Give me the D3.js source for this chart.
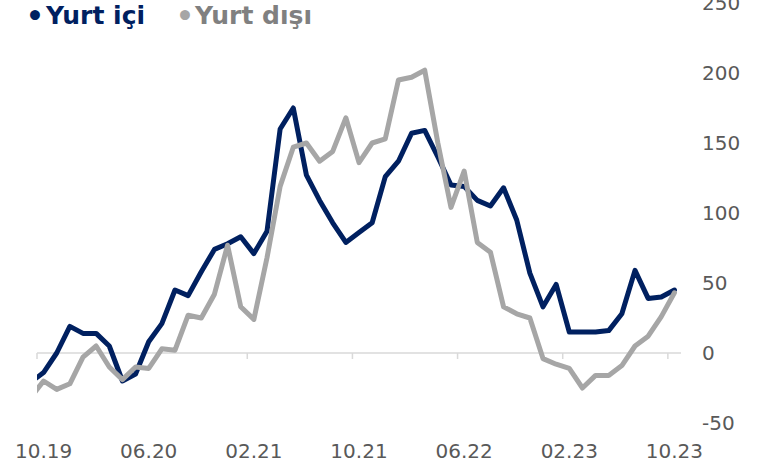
<!DOCTYPE html>
<html>
<head>
<meta charset="utf-8">
<script src="https://cdn.jsdelivr.net/npm/d3@7"></script>
<style>
  body { margin: 0; background: #fff; }
  svg { display: block; font-family: 'DejaVu Sans', Verdana, sans-serif; }
</style>
</head>
<body>
<div id="chart-container"></div>
<script>
// Months (09.19 is only partly visible at the left edge)
const months = ['09.19','10.19','11.19','12.19','01.20','02.20','03.20','04.20','05.20','06.20',
  '07.20','08.20','09.20','10.20','11.20','12.20','01.21','02.21','03.21','04.21',
  '05.21','06.21','07.21','08.21','09.21','10.21','11.21','12.21','01.22','02.22',
  '03.22','04.22','05.22','06.22','07.22','08.22','09.22','10.22','11.22','12.22',
  '01.23','02.23','03.23','04.23','05.23','06.23','07.23','08.23','09.23','10.23'];

const yurtIci = [-21,-14,0,19,14,14,5,-20,-15,8,
  21,45,41,58,74,78,83,71,87,160,
  175,127,109,93,79,86,93,126,137,157,
  159,140,120,119,109,105,118,95,57,33,
  49,15,15,15,16,28,59,39,40,45];

const yurtDisi = [-32,-20,-26,-22,-3,5,-10,-19,-10,-11,
  3,2,27,25,42,77,33,24,68,119,
  147,150,137,144,168,136,150,153,195,197,
  202,150,104,130,79,72,33,28,25,-4,
  -8,-11,-25,-16,-16,-9,5,12,26,43];

const tickLabels = ['10.19','06.20','02.21','10.21','06.22','02.23','10.23'];
const yTicks = [-50, 0, 50, 100, 150, 200, 250];

const width = 784;
const height = 466;
const plot = { left: 37, right: 681, top: 3, bottom: 423 };

const blue = '#002060';
const grey = '#a6a6a6';

function createChart() {
  const svg = d3.create('svg')
    .attr('width', width)
    .attr('height', height);

  // index scale: category i sits at the centre of its slot
  const x = d3.scaleLinear()
    .domain([0.5, months.length - 0.5])
    .range([plot.left, plot.right]);

  const y = d3.scaleLinear()
    .domain([-50, 250])
    .range([plot.bottom, plot.top]);

  svg.append('clipPath')
    .attr('id', 'clip')
    .append('rect')
    .attr('x', plot.left)
    .attr('y', 0)
    .attr('width', plot.right - plot.left)
    .attr('height', height);

  // zero line with tick marks between categories
  svg.append('line')
    .attr('x1', plot.left).attr('x2', plot.right)
    .attr('y1', y(0)).attr('y2', y(0))
    .attr('stroke', '#d9d9d9')
    .attr('stroke-width', 1.5);

  const tickIdx = d3.range(0.5, months.length - 1, 8);
  svg.append('g')
    .selectAll('line')
    .data(tickIdx)
    .join('line')
    .attr('x1', (d) => x(d)).attr('x2', (d) => x(d))
    .attr('y1', y(0)).attr('y2', y(0) + 6)
    .attr('stroke', '#d9d9d9')
    .attr('stroke-width', 1.5);

  // lines
  const line = (vals) => d3.line()
    .x((d, i) => x(i))
    .y((d) => y(d))(vals);

  const lines = svg.append('g').attr('clip-path', 'url(#clip)');
  [[yurtIci, blue], [yurtDisi, grey]].forEach(([vals, color]) => {
    lines.append('path')
      .attr('d', line(vals))
      .attr('fill', 'none')
      .attr('stroke', color)
      .attr('stroke-width', 5)
      .attr('stroke-linejoin', 'round')
      .attr('stroke-linecap', 'round');
  });

  // y axis labels on the right
  svg.append('g')
    .selectAll('text')
    .data(yTicks)
    .join('text')
    .attr('x', 702)
    .attr('y', (d) => y(d))
    .attr('dy', '0.36em')
    .attr('font-size', 20)
    .attr('fill', '#595959')
    .text((d) => d);

  // x axis labels
  svg.append('g')
    .selectAll('text')
    .data(tickLabels)
    .join('text')
    .attr('x', (d) => x(months.indexOf(d)))
    .attr('y', 458)
    .attr('text-anchor', 'middle')
    .attr('font-size', 20)
    .attr('fill', '#595959')
    .text((d) => d);

  // legend
  const legend = svg.append('g').attr('font-weight', 'bold');
  const items = [
    { bx: 26, tx: 46, dot: blue, col: blue, label: 'Yurt içi' },
    { bx: 176, tx: 195, dot: grey, col: '#808080', label: 'Yurt dışı' },
  ];
  items.forEach((it) => {
    legend.append('text')
      .attr('x', it.bx).attr('y', 26)
      .attr('font-size', 28)
      .attr('fill', it.dot)
      .text('•');
    legend.append('text')
      .attr('x', it.tx).attr('y', 24)
      .attr('font-size', 25)
      .attr('fill', it.col)
      .text(it.label);
  });

  return svg.node();
}

document.getElementById('chart-container').appendChild(createChart());
</script>
</body>
</html>
